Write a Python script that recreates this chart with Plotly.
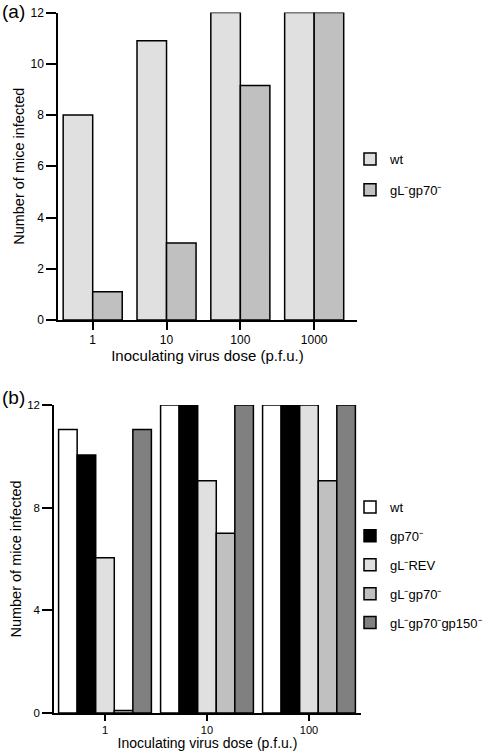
import plotly.graph_objects as go

# ---- Panel (a) data ----
doses_a = ["1", "10", "100", "1000"]
wt_a = [8.0, 10.9, 12.0, 12.0]
gLgp70_a = [1.1, 3.0, 9.15, 12.0]

# ---- Panel (b) data ----
doses_b = ["1", "10", "100"]
wt_b = [11.05, 12.0, 12.0]
gp70_b = [10.05, 12.0, 12.0]
gLREV_b = [6.05, 9.05, 12.0]
gLgp70_b = [0.1, 7.0, 9.05]
gLgp70gp150_b = [11.05, 12.0, 12.0]

yticks_a = [0, 2, 4, 6, 8, 10, 12]
yticks_b = [0, 4, 8, 12]

FONT = "Liberation Sans"
W, H = 496, 751

fig = go.Figure()

# panel (a): two bars per dose
series_a = [
    ("wt", wt_a, "#e0e0e0"),
    ("gL⁻gp70⁻", gLgp70_a, "#c0c0c0"),
]
wa = 0.4
for i, (name, vals, col) in enumerate(series_a):
    fig.add_trace(go.Bar(
        x=doses_a, y=vals, name=name,
        marker=dict(color=col, line=dict(color="black", width=1.5)),
        width=wa, offset=-wa + i * wa,
        xaxis="x", yaxis="y", legend="legend", legendgroup="a%d" % i,
    ))

# panel (b): five bars per dose
series_b = [
    ("wt", wt_b, "#ffffff"),
    ("gp70⁻", gp70_b, "#000000"),
    ("gL⁻REV", gLREV_b, "#e0e0e0"),
    ("gL⁻gp70⁻", gLgp70_b, "#c0c0c0"),
    ("gL⁻gp70⁻gp150⁻", gLgp70gp150_b, "#808080"),
]
wb = 0.182
for i, (name, vals, col) in enumerate(series_b):
    fig.add_trace(go.Bar(
        x=doses_b, y=vals, name=name,
        marker=dict(color=col, line=dict(color="black", width=1.5)),
        width=wb, offset=-2.5 * wb + i * wb,
        xaxis="x2", yaxis="y2", legend="legend2", legendgroup="b%d" % i,
    ))

axis_common = dict(
    showline=True, linecolor="black", linewidth=1.5,
    ticks="outside", tickcolor="black", tickwidth=1.5,
    showgrid=False, zeroline=False, automargin=False,
)

fig.update_layout(
    width=W, height=H,
    margin=dict(l=0, r=0, t=0, b=0, autoexpand=False),
    paper_bgcolor="white", plot_bgcolor="white",
    barmode="overlay",
    font=dict(family=FONT, color="black"),
    xaxis=dict(
        axis_common, type="category", domain=[58 / W, 357 / W],
        range=[-0.47, 3.58], ticklen=8, anchor="y",
        tickfont=dict(family=FONT, size=12, color="black"),
        title=dict(text="Inoculating virus dose (p.f.u.)",
                   font=dict(family=FONT, size=15), standoff=4),
    ),
    yaxis=dict(
        axis_common, domain=[1 - 320 / H, 1 - 12.5 / H],
        range=[0, 12], tickvals=yticks_a, ticklen=10, anchor="x",
        tickfont=dict(family=FONT, size=12, color="black"),
        title=dict(text="Number of mice infected",
                   font=dict(family=FONT, size=14.5), standoff=2),
    ),
    xaxis2=dict(
        axis_common, type="category", domain=[54 / W, 361 / W],
        range=[-0.5, 2.51], ticklen=6, anchor="y2",
        tickfont=dict(family=FONT, size=11, color="black"),
        title=dict(text="Inoculating virus dose (p.f.u.)",
                   font=dict(family=FONT, size=14), standoff=0),
    ),
    yaxis2=dict(
        axis_common, domain=[1 - 713 / H, 1 - 405 / H],
        range=[0, 12], tickvals=yticks_b, ticklen=10, anchor="x2",
        tickfont=dict(family=FONT, size=11.5, color="black"),
        title=dict(text="Number of mice infected",
                   font=dict(family=FONT, size=14.5), standoff=2),
    ),
    legend=dict(
        x=350 / W, xanchor="left", y=1 - 144 / H, yanchor="top",
        font=dict(family=FONT, size=13), tracegroupgap=11,
        bgcolor="rgba(0,0,0,0)",
    ),
    legend2=dict(
        x=350 / W, xanchor="left", y=1 - 492 / H, yanchor="top",
        font=dict(family=FONT, size=13), tracegroupgap=9,
        bgcolor="rgba(0,0,0,0)",
    ),
    annotations=[
        dict(text="(a)", x=0, y=1 - 12 / H, xref="paper", yref="paper",
             xanchor="left", yanchor="middle", showarrow=False,
             font=dict(family=FONT, size=19)),
        dict(text="(b)", x=0, y=1 - 397 / H, xref="paper", yref="paper",
             xanchor="left", yanchor="middle", showarrow=False,
             font=dict(family=FONT, size=19)),
    ],
)

fig.write_html("out.html", config={"displayModeBar": False},
               post_script="document.body.style.margin='0';document.body.style.overflow='hidden';")
